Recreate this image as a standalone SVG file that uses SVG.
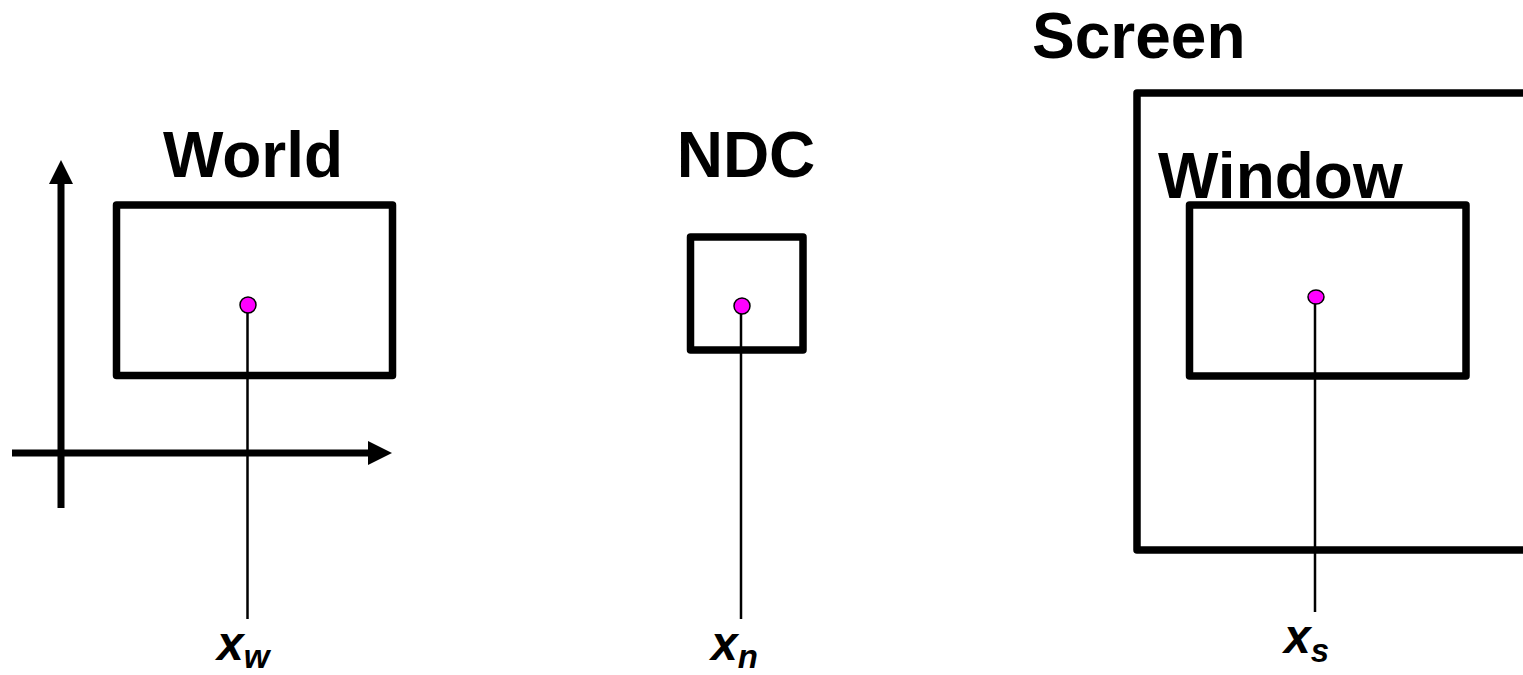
<svg xmlns="http://www.w3.org/2000/svg" width="1523" height="675" viewBox="0 0 1523 675">
<style>
.box{fill:none;stroke:#000;stroke-width:7.5;stroke-linejoin:round}
.axis{stroke:#000;stroke-width:7;fill:none}
.head{fill:#000}
.title{font-family:"Liberation Sans",Arial,sans-serif;font-weight:bold;font-size:64px;fill:#000}
.lbl{font-family:"Liberation Sans",Arial,sans-serif;font-weight:bold;font-style:italic;fill:#000}
.pt{fill:#ff00ff;stroke:#000;stroke-width:1.5}
.lead{stroke:#000;stroke-width:2.5;fill:none}
</style>
<rect width="1523" height="675" fill="#fff"/>
<g id="axes">
<line class="axis" x1="61" y1="180" x2="61" y2="508"/>
<polygon class="head" points="61,160 49,184 73,184"/>
<line class="axis" x1="12" y1="453" x2="372" y2="453"/>
<polygon class="head" points="392,453 368,441 368,465"/>
</g>
<g id="connectors">
<line class="lead" x1="247.5" y1="305" x2="247.5" y2="619"/>
<line class="lead" x1="741" y1="306" x2="741" y2="619"/>
<line class="lead" x1="1315" y1="297" x2="1315" y2="612"/>
</g>
<g id="world">
<text class="title" x="163" y="177">World</text>
<rect class="box" x="116.5" y="205" width="276" height="170.5"/>
<circle class="pt" cx="248" cy="305" r="8"/>
<text class="lbl" x="217" y="660" font-size="48">x<tspan font-size="33" dy="8">w</tspan></text>
</g>
<g id="ndc">
<text class="title" x="746" y="177" text-anchor="middle">NDC</text>
<rect class="box" x="690.5" y="237" width="112.5" height="113"/>
<circle class="pt" cx="742" cy="306" r="8"/>
<text class="lbl" x="711" y="660" font-size="48">x<tspan font-size="33" dy="8">n</tspan></text>
</g>
<g id="screen">
<text class="title" x="1032" y="58">Screen</text>
<rect class="box" x="1137" y="93" width="420" height="457"/>
</g>
<g id="window">
<text class="title" x="1158" y="198">Window</text>
<rect class="box" x="1189.5" y="205" width="276.5" height="171"/>
<ellipse class="pt" cx="1316" cy="297" rx="8" ry="7"/>
<text class="lbl" x="1284" y="653" font-size="48">x<tspan font-size="33" dy="9">s</tspan></text>
</g>
</svg>
